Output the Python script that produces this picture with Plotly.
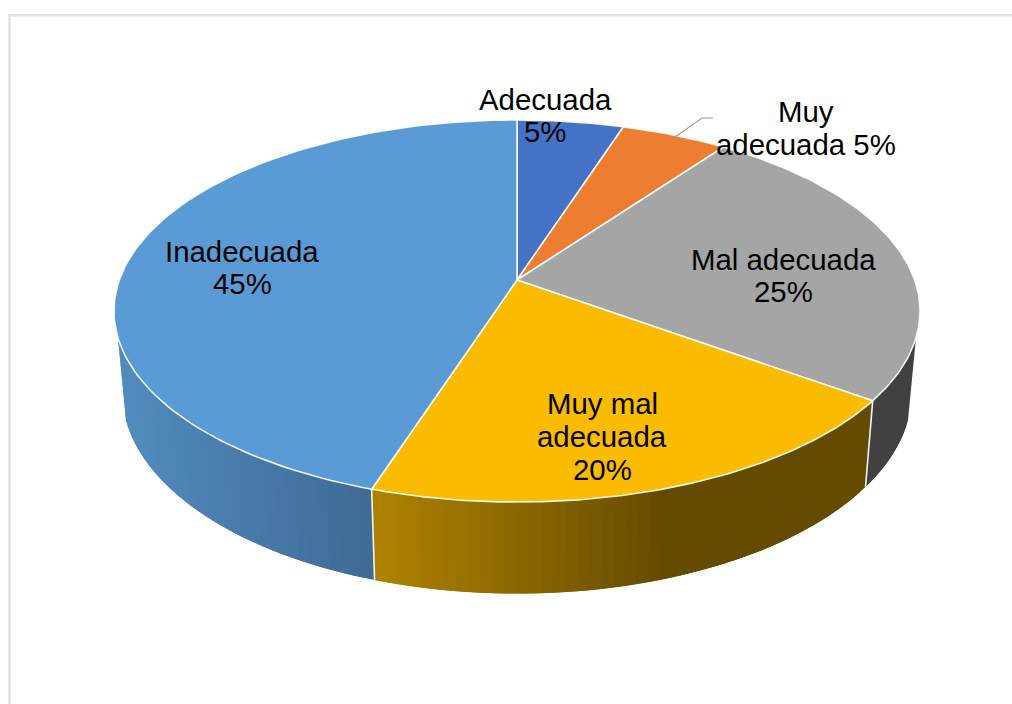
import numpy as np
import plotly.graph_objects as go

# Data
categories = ["Adecuada", "Muy adecuada", "Mal adecuada", "Muy mal adecuada", "Inadecuada"]
values = [5, 5, 25, 20, 45]
label_lines = [["Adecuada", "5%"], ["Muy", "adecuada 5%"], ["Mal adecuada", "25%"],
               ["Muy mal", "adecuada", "20%"], ["Inadecuada", "45%"]]

# Style
top_colors = ["#4472C4", "#ED7D31", "#A5A5A5", "#FBBC00", "#5B9BD5"]
wall_left = [None, None, (65, 65, 65), (174, 130, 0), (82, 140, 192)]
wall_right = [None, None, (65, 65, 65), (101, 75, 0), (62, 105, 147)]
grad_span = [None, None, (866, 920), (375, 655), (120, 375)]
label_anchor = [(545, 99, 32), (806, 111, 33), (783, 259, 32), (602, 403, 33), (242, 251, 32)]
FONT_SIZE = 29.4

# Perspective model of the disc (screen pixels)
CX, K = 517, 0.1623
TOP = dict(b=397.7, a=186.0, y0=280.0)
BOT = dict(b=389.7, a=196.0, y0=359.6)
WALL_FROM, WALL_TO = 107.3, 252.7  # angles where the side becomes visible


def project(theta_deg, p):
    t = np.radians(theta_deg)
    X, Y = np.sin(t), np.cos(t)
    w = 1 + K * Y
    return CX + p["b"] * X / w, p["y0"] - p["a"] * Y / w


fig = go.Figure()
edges = np.concatenate([[0], np.cumsum(values)]) * 360.0 / sum(values)


def add_poly(xs, ys, fill, line_color, width):
    fig.add_trace(go.Scatter(x=xs, y=ys, mode="lines", fill="toself", fillcolor=fill,
                             line=dict(color=line_color, width=width), hoverinfo="skip",
                             showlegend=False))


# Side walls: only the slices that face the viewer.  Strips overlap the next one to avoid seams.
for i in range(2, 5):
    start = max(edges[i], WALL_FROM)
    end = min(edges[i + 1], WALL_TO)
    n = max(2, int((end - start) / 1.5))
    ts = np.linspace(start, end, n + 1)
    step = ts[1] - ts[0]
    for a, b in zip(ts[:-1], ts[1:]):
        b_ext = min(b + step, end)
        arc = np.linspace(a, b_ext, 5)
        xt, yt = project(arc, TOP)
        xb, yb = project(arc[::-1], BOT)
        xmid = (xb[0] + xb[-1]) / 2
        lo, hi = grad_span[i]
        f = min(1.0, max(0.0, (xmid - lo) / (hi - lo)))
        col = [round(wall_left[i][k] + f * (wall_right[i][k] - wall_left[i][k])) for k in range(3)]
        c = f"rgb({col[0]},{col[1]},{col[2]})"
        add_poly(np.concatenate([xt, xb, xt[:1]]), np.concatenate([yt, yb, yt[:1]]), c, c, 0)

# White seams between walls
for e in [edges[3], edges[4]]:
    xa, ya = project(e, TOP)
    xd, yd = project(e, BOT)
    fig.add_trace(go.Scatter(x=[xa, xd], y=[ya, yd], mode="lines",
                             line=dict(color="#F2F2F2", width=1.6), hoverinfo="skip", showlegend=False))

# Top faces
for i in range(5):
    ts = np.linspace(edges[i], edges[i + 1], 120)
    xs, ys = project(ts, TOP)
    xs = np.concatenate([[CX], xs, [CX]])
    ys = np.concatenate([[TOP["y0"]], ys, [TOP["y0"]]])
    add_poly(xs, ys, top_colors[i], "rgba(255,255,255,0.9)", 1.6)

# Leader line for the label outside the disc
fig.add_trace(go.Scatter(x=[675, 702, 713], y=[137, 118, 118], mode="lines",
                         line=dict(color="#9A9A9A", width=1.2), hoverinfo="skip", showlegend=False))

annotations = []
for lines, (ax, ay, step) in zip(label_lines, label_anchor):
    for j, txt in enumerate(lines):
        annotations.append(dict(x=ax, y=ay + j * step, text=txt, showarrow=False, xanchor="center",
                                yanchor="middle", font=dict(family="Liberation Sans", size=FONT_SIZE, color="#000000")))

shapes = [
    dict(type="line", x0=9.5, x1=9.5, y0=15, y1=704, line=dict(color="#E2E2E2", width=2.5)),
    dict(type="line", x0=8, x1=1012, y0=15.2, y1=15.2, line=dict(color="#E2E2E2", width=2.5)),
]

fig.update_layout(
    width=1012, height=704, margin=dict(l=0, r=0, t=0, b=0, pad=0),
    paper_bgcolor="white", plot_bgcolor="white", showlegend=False,
    xaxis=dict(range=[0, 1012], visible=False, fixedrange=True),
    yaxis=dict(range=[704, 0], visible=False, fixedrange=True),
    annotations=annotations, shapes=shapes,
)
fig.write_html("out.html", config={"displayModeBar": False},
               post_script="document.body.style.margin='0';document.body.style.overflow='hidden';")
